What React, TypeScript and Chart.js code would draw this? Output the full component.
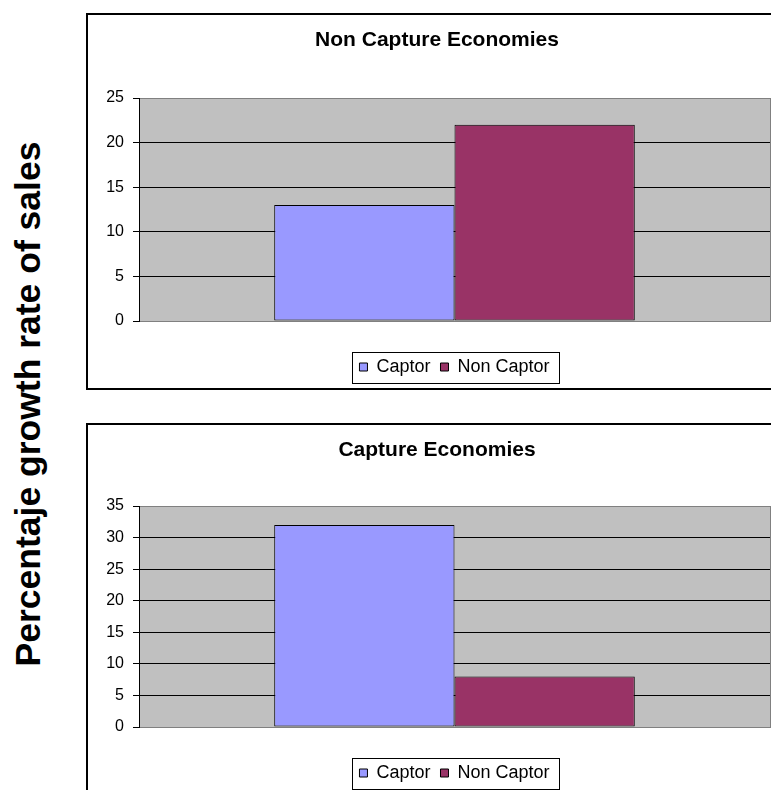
import React, { useEffect, useRef } from 'react';
import { Chart, registerables } from 'chart.js';

Chart.register(...registerables);

const FONT = '"Liberation Sans", Arial, Helvetica, sans-serif';

// Series shared by both panels
const seriesLabels = ['Captor', 'Non Captor'];
const seriesColors = ['#9999FF', '#993366'];

// Panel 1
const nonCaptureTitle = 'Non Capture Economies';
const nonCaptureValues = [13, 22];
const nonCaptureMax = 25;

// Panel 2
const captureTitle = 'Capture Economies';
const captureValues = [32, 8];
const captureMax = 35;

const tickStep = 5;
const yAxisTitle = 'Percentaje growth rate of sales';

// Grey plot area behind the bars, with a grey frame on the right
const plotBackground = {
  id: 'plotBackground',
  beforeDraw(chart: any) {
    const { ctx, chartArea: a } = chart;
    ctx.save();
    ctx.fillStyle = '#C0C0C0';
    ctx.fillRect(a.left, a.top, a.right - a.left, a.bottom - a.top);
    ctx.restore();
  },
  beforeDatasetsDraw(chart: any) {
    const { ctx, chartArea: a } = chart;
    ctx.save();
    ctx.strokeStyle = '#808080';
    ctx.lineWidth = 1;
    ctx.beginPath();
    const x = Math.round(a.right) + 0.5;
    ctx.moveTo(x, Math.round(a.top));
    ctx.lineTo(x, Math.round(a.bottom) + 1);
    ctx.stroke();
    ctx.restore();
  },
};

// Thin black frame around the legend entries
const legendFrame = {
  id: 'legendFrame',
  afterDraw(chart: any) {
    const lg = chart.legend;
    if (!lg || !lg.legendHitBoxes || !lg.legendHitBoxes.length) return;
    const hb = lg.legendHitBoxes;
    const l = Math.min(...hb.map((b: any) => b.left)) - 7;
    const r = Math.max(...hb.map((b: any) => b.left + b.width)) + 10;
    const t = hb[0].top - 6;
    const btm = hb[0].top + hb[0].height + 7;
    const { ctx } = chart;
    ctx.save();
    ctx.strokeStyle = '#000';
    ctx.lineWidth = 1;
    ctx.strokeRect(Math.round(l) + 0.5, Math.round(t) + 0.5, Math.round(r - l), Math.round(btm - t));
    ctx.restore();
  },
};

type PanelProps = {
  title: string;
  values: number[];
  yMax: number;
  top: number;
  titleGap: number;
  bottomPad: number;
};

function Panel({ title, values, yMax, top, titleGap, bottomPad }: PanelProps) {
  const ref = useRef<HTMLCanvasElement>(null);

  useEffect(() => {
    const chart = new Chart(ref.current as HTMLCanvasElement, {
      type: 'bar',
      data: {
        labels: [''],
        datasets: seriesLabels.map((name, i) => ({
          label: name,
          data: [values[i]],
          backgroundColor: seriesColors[i],
          borderColor: '#000',
          borderWidth: 1,
          borderSkipped: false,
          categoryPercentage: 2 / 3.5,
          barPercentage: 1,
        })),
      },
      options: {
        animation: false,
        responsive: false,
        devicePixelRatio: 1,
        events: [],
        layout: { padding: { top: 0, left: 0, right: 0, bottom: bottomPad } },
        plugins: {
          title: {
            display: true,
            text: title,
            color: '#000',
            font: { family: FONT, size: 21, weight: 'bold', lineHeight: 1.2 },
            padding: { top: 14.5, bottom: titleGap },
          },
          legend: {
            display: true,
            position: 'bottom',
            fullSize: false,
            labels: {
              boxWidth: 8,
              boxHeight: 8,
              padding: 10,
              color: '#000',
              font: { family: FONT, size: 18 },
            },
          },
          tooltip: { enabled: false },
        },
        scales: {
          x: {
            display: true,
            grid: { display: false },
            ticks: { display: false },
            border: { display: false },
            afterFit: (s: any) => {
              s.height = 27;
            },
          },
          y: {
            min: 0,
            max: yMax,
            ticks: {
              stepSize: tickStep,
              color: '#000',
              padding: 9,
              font: { family: FONT, size: 16 },
            },
            grid: {
              color: (c: any) =>
                c.tick && (c.tick.value === 0 || c.tick.value === yMax) ? '#808080' : '#000000',
              tickColor: '#000',
              tickLength: 6,
              lineWidth: 1,
            },
            border: { display: true, color: '#000', width: 1 },
            afterFit: (s: any) => {
              s.width = 52;
            },
          },
          pad: {
            type: 'linear',
            position: 'right',
            display: true,
            grid: { display: false },
            ticks: { display: false },
            border: { display: false },
            afterFit: (s: any) => {
              s.width = 17;
            },
          },
        },
      } as any,
      plugins: [plotBackground, legendFrame],
    });
    return () => chart.destroy();
  }, []);

  return (
    <>
      <canvas
        ref={ref}
        width={700}
        height={376}
        style={{ position: 'absolute', left: 87, top, width: 700, height: 376, display: 'block' }}
      />
      <div
        style={{
          position: 'absolute',
          left: 86,
          top,
          width: 700,
          height: 377,
          border: '2px solid #000',
          boxSizing: 'border-box',
          pointerEvents: 'none',
        }}
      />
    </>
  );
}

export default function App() {
  const cx = 27.7;
  const cy = 403.5;
  const w = 620;
  const h = 40;
  return (
    <div
      style={{
        position: 'absolute',
        left: 0,
        top: 0,
        width: 771,
        height: 790,
        overflow: 'hidden',
        background: '#fff',
      }}
    >
      <div
        style={{
          position: 'absolute',
          left: cx - w / 2,
          top: cy - h / 2,
          width: w,
          height: h,
          lineHeight: h + 'px',
          textAlign: 'center',
          transform: 'rotate(-90deg)',
          fontFamily: FONT,
          fontWeight: 'bold',
          fontSize: 35.5,
          whiteSpace: 'nowrap',
          color: '#000',
        }}
      >
        {yAxisTitle}
      </div>
      <Panel
        title={nonCaptureTitle}
        values={nonCaptureValues}
        yMax={nonCaptureMax}
        top={13}
        titleGap={45.3}
        bottomPad={3}
      />
      <Panel
        title={captureTitle}
        values={captureValues}
        yMax={captureMax}
        top={423}
        titleGap={43.3}
        bottomPad={7}
      />
    </div>
  );
}
